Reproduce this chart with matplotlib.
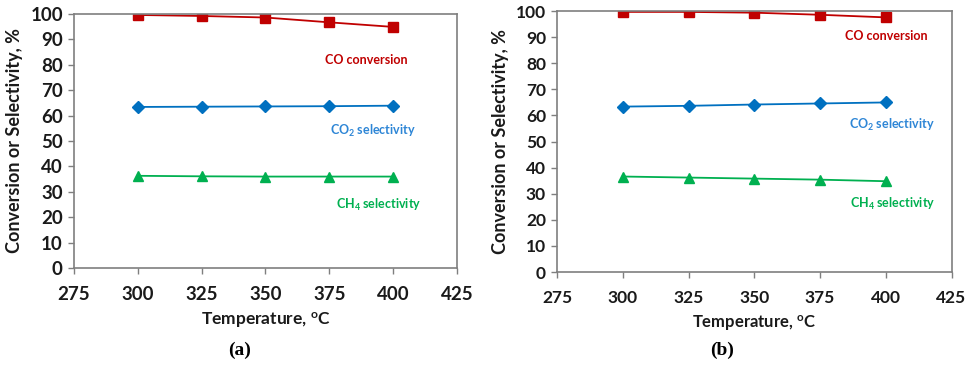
import matplotlib.pyplot as plt

plt.rcParams['font.family'] = ['Lato', 'DejaVu Sans']
plt.rcParams['font.weight'] = 'bold'

temps = [300, 325, 350, 375, 400]

# panel (a)
co_conv_a = [99.6, 99.2, 98.6, 96.7, 94.9]
co2_sel_a = [63.4, 63.5, 63.6, 63.7, 63.9]
ch4_sel_a = [36.3, 36.1, 36.0, 36.0, 36.0]

# panel (b)
co_conv_b = [99.7, 99.7, 99.4, 98.6, 97.6]
co2_sel_b = [63.4, 63.7, 64.2, 64.6, 65.0]
ch4_sel_b = [36.6, 36.2, 35.8, 35.4, 34.8]

red = '#c00000'
blue = '#0070c0'
green = '#00b050'

fig = plt.figure(figsize=(9.67, 3.77), dpi=100)
ax_a = fig.add_axes([0.0765, 0.289, 0.396, 0.674])
ax_b = fig.add_axes([0.576, 0.2785, 0.408, 0.692])


def draw_panel(ax, co, co2, ch4, lbl_pos, tick_size, xl_size):
    ax.plot(temps, co, color=red, marker='s', ms=7, lw=1.3)
    ax.plot(temps, co2, color=blue, marker='D', ms=6.5, lw=1.3)
    ax.plot(temps, ch4, color=green, marker='^', ms=7.5, lw=1.3)
    ax.set_xlim(275, 425)
    ax.set_ylim(0, 100)
    ax.set_xticks(range(275, 426, 25))
    ax.set_yticks(range(0, 101, 10))
    for s in ax.spines.values():
        s.set_color('#7f7f7f')
        s.set_linewidth(1.2)
    ax.tick_params(direction='out', length=4, color='#7f7f7f', width=1,
                   labelsize=tick_size, labelcolor='#1a1a1a')
    ax.tick_params(axis='x', pad=9)
    ax.tick_params(axis='y', pad=4)
    ax.set_xlabel('Temperature, $\\mathregular{^{o}}$C', fontsize=xl_size,
                  fontweight='bold', labelpad=5, color='#1a1a1a')
    ax.set_ylabel('Conversion or Selectivity, %', fontsize=13,
                  fontweight='bold', labelpad=5, color='#1a1a1a')
    (x1, y1), (x2, y2), (x3, y3) = lbl_pos
    ax.text(x1, y1, 'CO conversion', color=red, fontsize=9,
            fontweight='bold', ha='center', va='center')
    ax.text(x2, y2, 'CO$\\mathregular{_2}$ selectivity', color='#2e86d6',
            fontsize=9, fontweight='bold', ha='center', va='center')
    ax.text(x3, y3, 'CH$\\mathregular{_4}$ selectivity', color=green,
            fontsize=9, fontweight='bold', ha='center', va='center')


draw_panel(ax_a, co_conv_a, co2_sel_a, ch4_sel_a,
           [(389.6, 82), (392, 54), (394.5, 25)], 13.5, 12.5)
draw_panel(ax_b, co_conv_b, co2_sel_b, ch4_sel_b,
           [(400.3, 90.5), (402.4, 56.3), (402.8, 26.2)], 12.5, 12)

fig.text(0.248, 0.072, '(a)', family='Liberation Serif', fontsize=14,
         fontweight='bold', ha='center', va='center')
fig.text(0.747, 0.072, '(b)', family='Liberation Serif', fontsize=14,
         fontweight='bold', ha='center', va='center')

fig.savefig('out.png', dpi=100)
